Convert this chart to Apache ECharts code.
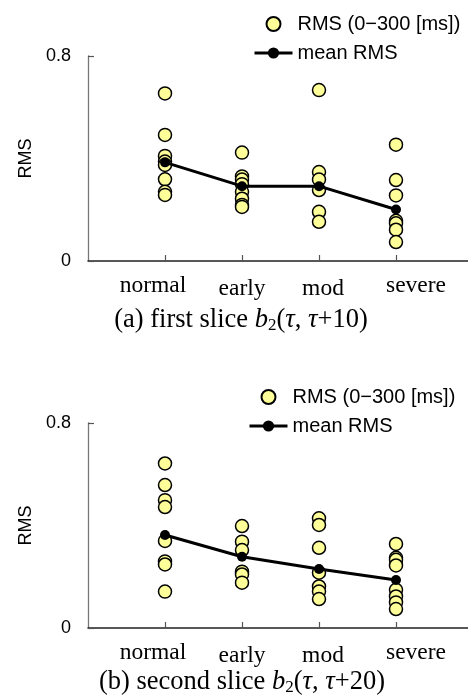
<!DOCTYPE html>
<html>
<head>
<meta charset="utf-8">
<script src="https://cdn.jsdelivr.net/npm/echarts@6/dist/echarts.min.js"></script>
<style>
html,body{margin:0;padding:0;background:#fff;}
#c{width:468px;height:698px;}
</style>
</head>
<body>
<div id="c"></div>
<script>
// ---- data ----
const categories = ['normal', 'early', 'mod', 'severe'];
const yTicks = [0, 0.8];
const scatterName = 'RMS (0\u2212300 [ms])';
const meanName = 'mean RMS';

// (a) first slice
const rmsA_normal = [0.654, 0.492, 0.41, 0.388, 0.375, 0.319, 0.27, 0.258];
const rmsA_early  = [0.423, 0.33, 0.318, 0.30, 0.27, 0.243, 0.219, 0.211];
const rmsA_mod    = [0.667, 0.347, 0.318, 0.277, 0.192, 0.153];
const rmsA_severe = [0.454, 0.316, 0.256, 0.157, 0.147, 0.122, 0.074];
const meanA       = [0.385, 0.292, 0.292, 0.201];

// (b) second slice
const rmsB_normal = [0.642, 0.558, 0.499, 0.472, 0.34, 0.26, 0.248, 0.142];
const rmsB_early  = [0.398, 0.337, 0.304, 0.22, 0.209, 0.177];
const rmsB_mod    = [0.428, 0.402, 0.313, 0.216, 0.162, 0.142, 0.113];
const rmsB_severe = [0.328, 0.274, 0.266, 0.244, 0.149, 0.123, 0.1, 0.074];
const meanB       = [0.363, 0.278, 0.23, 0.187];

// ---- build ----
const axisCats = [''].concat(categories).concat(['']);
function pts(groups) {
  const out = [];
  groups.forEach((g, i) => g.forEach(v => out.push([categories[i], v])));
  return out;
}
function meanPts(arr) { return arr.map((v, i) => [categories[i], v]); }

const sansFont = "'Liberation Sans', Arial, sans-serif";
const serifFont = "'Liberation Serif', 'Times New Roman', serif";

const catRich = {
  c1: {fontFamily: serifFont, fontSize: 23.5, color: '#000', padding: [0, 24, 0, 0]},
  c2: {fontFamily: serifFont, fontSize: 23.5, color: '#000', padding: [3, 0, 0, 0]},
  c3: {fontFamily: serifFont, fontSize: 23.5, color: '#000', padding: [3, 0, 0, 8]},
  c4: {fontFamily: serifFont, fontSize: 23.5, color: '#000', padding: [0, 0, 0, 40]}
};

function xAxis(gi) {
  return {
    type: 'category', gridIndex: gi, data: axisCats, boundaryGap: false,
    axisLine: {lineStyle: {color: '#222', width: 1.5}},
    axisTick: {show: true, inside: true, length: 6, lineStyle: {color: '#555', width: 1.2},
      interval: (i, v) => v !== ''},
    axisLabel: {margin: 13, interval: 0, hideOverlap: false,
      formatter: (v, i) => v ? '{c' + i + '|' + v + '}' : '',
      rich: catRich},
    splitLine: {show: false}
  };
}
function yAxis(gi) {
  return {
    type: 'value', gridIndex: gi, min: yTicks[0], max: yTicks[1], interval: yTicks[1] - yTicks[0],
    name: 'RMS', nameLocation: 'middle', nameGap: 52,
    nameTextStyle: {fontFamily: sansFont, fontSize: 18, color: '#000'},
    axisLine: {show: true, lineStyle: {color: '#777', width: 1.3}},
    axisTick: {show: true, inside: true, length: 6, lineStyle: {color: '#555', width: 1.2}},
    axisLabel: {margin: 17, fontFamily: sansFont, fontSize: 18, color: '#000',
      formatter: v => String(v)},
    splitLine: {show: false}
  };
}
function scatterSeries(gi, groups) {
  return {
    name: scatterName, type: 'scatter', xAxisIndex: gi, yAxisIndex: gi,
    data: pts(groups), symbol: 'circle', symbolSize: 13,
    itemStyle: {color: '#FFFF99', borderColor: '#000', borderWidth: 1.5, opacity: 1},
    z: 2
  };
}
function meanSeries(gi, arr) {
  return {
    name: meanName, type: 'line', xAxisIndex: gi, yAxisIndex: gi,
    data: meanPts(arr), symbol: 'circle', symbolSize: 10, showSymbol: true,
    lineStyle: {color: '#000', width: 3},
    itemStyle: {color: '#000', borderColor: '#000', borderWidth: 0},
    z: 3
  };
}
function legend(left, top) {
  return {
    orient: 'vertical', left: left, top: top, padding: 0,
    itemWidth: 38, itemHeight: 14, itemGap: 9,
    data: [scatterName, meanName], selectedMode: false,
    lineStyle: {width: 3},
    textStyle: {fontFamily: sansFont, fontSize: 20, color: '#000'}
  };
}
const capRich = {
  n: {fontFamily: serifFont, fontSize: 26.5, color: '#000'},
  i: {fontFamily: serifFont, fontSize: 26.5, fontStyle: 'italic', color: '#000'},
  s: {fontFamily: serifFont, fontSize: 17, color: '#000', padding: [10, 0, 0, 0]}
};
function caption(label, text, x, y) {
  return {
    type: 'text', x: x, y: y,
    style: {
      text: '{n|' + label + ' }{i|b}{s|2}{n|(}{i|\u03c4}{n|, }{i|\u03c4}{n|+' + text + ')}',
      rich: capRich, align: 'center', verticalAlign: 'top'
    }
  };
}

const chart = echarts.init(document.getElementById('c'), null, {renderer: 'canvas'});
chart.setOption({
  animation: false,
  backgroundColor: '#fff',
  grid: [
    {left: 88, top: 56, width: 385, height: 205, outerBoundsMode: 'none', containLabel: false},
    {left: 88, top: 423, width: 385, height: 205, outerBoundsMode: 'none', containLabel: false}
  ],
  xAxis: [xAxis(0), xAxis(1)],
  yAxis: [yAxis(0), yAxis(1)],
  legend: [legend(253, 14), legend(248, 387)],
  series: [
    scatterSeries(0, [rmsA_normal, rmsA_early, rmsA_mod, rmsA_severe]),
    meanSeries(0, meanA),
    scatterSeries(1, [rmsB_normal, rmsB_early, rmsB_mod, rmsB_severe]),
    meanSeries(1, meanB)
  ],
  graphic: [
    caption('(a) first slice', '10', 241, 307),
    caption('(b) second slice', '20', 242, 669)
  ]
});
</script>
</body>
</html>
